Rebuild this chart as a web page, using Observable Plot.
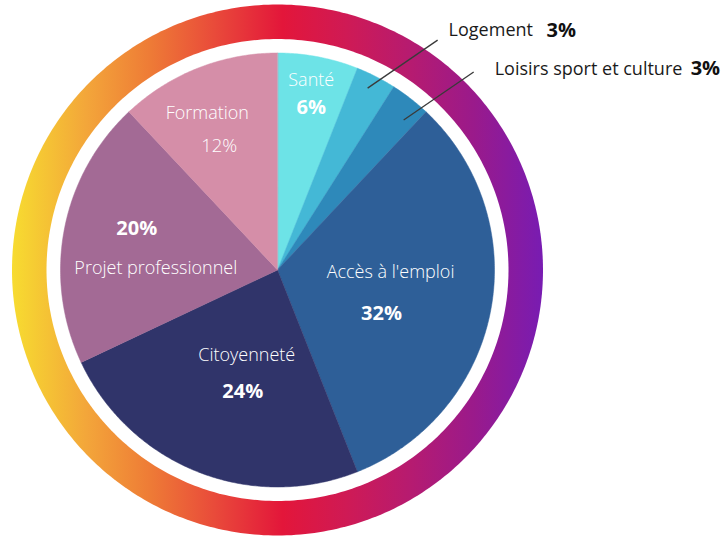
<!DOCTYPE html>
<html>
<head>
<meta charset="utf-8">
<script src="https://cdn.jsdelivr.net/npm/d3@7"></script>
<script src="https://cdn.jsdelivr.net/npm/@observablehq/plot@0.6"></script>
<style>
  html, body { margin: 0; padding: 0; background: #fff; }
  #chart svg { display: block; }
</style>
</head>
<body>
<div id="chart"></div>
<script>
// ---- data ----
const categories = ["Santé", "Logement", "Loisirs sport et culture", "Accès à l'emploi", "Citoyenneté", "Projet professionnel", "Formation"];
const values = [6, 3, 3, 32, 24, 20, 12];
const colors = ["#6de3e7", "#44b8d6", "#2e89ba", "#2e5f98", "#30346a", "#a36a95", "#d58ea8"];
const pctLabels = ["6%", "3%", "3%", "32%", "24%", "20%", "12%"];
const insideSlice = [true, false, false, true, true, true, true];
const boldPct = [true, true, true, true, true, true, false];

// ---- layout ----
const W = 724, H = 540;
const cx = 277, cy = 269.5;
const rPie = 217, rRingIn = 231, rRingOut = 265.5;
// inside labels: radius along the slice's mid angle, then offsets for name and pct
const inLayout = [
  {r: 180, ndx: 0, ndy: -13, pdx: 0, pdy: 14},
  null, null,
  {r: 110, ndx: 5, ndy: -18, pdx: -4, pdy: 23},
  {r: 108, ndx: 9, ndy: -15, pdx: 5, pdy: 21},
  {r: 130, ndx: 6, ndy: 23, pdx: -13, pdy: -17},
  {r: 150, ndx: -15, ndy: -17, pdx: -3, pdy: 16}
];
// outside labels: leader starts at fraction f of the slice's angle span, radius r
const outLayout = [
  null,
  {f: 0.44, r: 203, dx: 70, dy: -48, tx: 11, ty: -10, split: 98},
  {f: 0.71, r: 196, dx: 70, dy: -48, tx: 21, ty: -3, split: 196},
];
const gradStops = [
  [0, "#f7dc30"], [0.14, "#f3a63a"], [0.26, "#ee7b36"], [0.38, "#e94b3a"],
  [0.51, "#e3163a"], [0.63, "#cf1a55"], [0.75, "#b61b70"], [0.87, "#9a1a8b"], [1, "#781cb2"]
];

// ---- geometry from data ----
const pie = d3.pie().sort(null).value(d => d)(values);
const pt = (a, r) => ({x: cx + r * Math.sin(a), y: cy - r * Math.cos(a)});

const slicePts = [];
pie.forEach((p, i) => {
  slicePts.push({cat: categories[i], ...pt(0, 0)});
  const n = Math.max(4, Math.ceil((p.endAngle - p.startAngle) / 0.01));
  for (let k = 0; k <= n; k++) {
    const a = p.startAngle + (p.endAngle - p.startAngle) * k / n;
    slicePts.push({cat: categories[i], ...pt(a, rPie)});
  }
});

function circle(r) {
  const out = [];
  for (let k = 0; k < 360; k++) out.push(pt(k / 360 * 2 * Math.PI, r));
  return out;
}
const ringOuter = circle(rRingOut);
const ringInner = circle(rRingIn);

const inNames = [], inPctBold = [], inPctReg = [];
const outLines = [], outNames = [], outPcts = [];
pie.forEach((p, i) => {
  const mid = (p.startAngle + p.endAngle) / 2;
  if (insideSlice[i]) {
    const L = inLayout[i];
    const c = pt(mid, L.r);
    inNames.push({text: categories[i], x: c.x + L.ndx, y: c.y + L.ndy});
    (boldPct[i] ? inPctBold : inPctReg).push({text: pctLabels[i], x: c.x + L.pdx, y: c.y + L.pdy});
  } else {
    const L = outLayout[i];
    const s = pt(p.startAngle + L.f * (p.endAngle - p.startAngle), L.r);
    const e = {x: s.x + L.dx, y: s.y + L.dy};
    outLines.push({x1: s.x, y1: s.y, x2: e.x, y2: e.y});
    const tx = e.x + L.tx, ty = e.y + L.ty;
    outNames.push({text: categories[i], x: tx, y: ty});
    outPcts.push({text: pctLabels[i], x: tx + L.split, y: ty});
  }
});

const font = "'Open Sans', Lato, sans-serif";

const chart = Plot.plot({
  width: W,
  height: H,
  margin: 0,
  style: {background: "#fff", fontFamily: font},
  x: {domain: [0, W], range: [0, W], axis: null},
  y: {domain: [0, H], range: [0, H], axis: null},
  color: {domain: categories, range: colors},
  marks: [
    Plot.line(ringOuter, {x: "x", y: "y", curve: "linear-closed", fill: "url(#ringGrad)", stroke: "none"}),
    Plot.line(ringInner, {x: "x", y: "y", curve: "linear-closed", fill: "#ffffff", stroke: "none"}),
    Plot.line(slicePts, {x: "x", y: "y", z: "cat", fill: "cat", curve: "linear-closed", stroke: "cat", strokeWidth: 0.5}),
    Plot.text(inNames, {x: "x", y: "y", text: "text", fill: "#ffffff", fontSize: 18, fontWeight: 300, ariaLabel: "names"}),
    Plot.text(inPctReg, {x: "x", y: "y", text: "text", fill: "#ffffff", fontSize: 18.5, fontWeight: 300, ariaLabel: "names"}),
    Plot.text(inPctBold, {x: "x", y: "y", text: "text", fill: "#ffffff", fontSize: 20, fontWeight: 700}),
    Plot.link(outLines, {x1: "x1", y1: "y1", x2: "x2", y2: "y2", stroke: "#3a3a3a", strokeWidth: 1.3}),
    Plot.text(outNames, {x: "x", y: "y", text: "text", fill: "#1a1a1a", fontSize: 18, fontWeight: 400, textAnchor: "start", ariaLabel: "names"}),
    Plot.text(outPcts, {x: "x", y: "y", text: "text", fill: "#111111", fontSize: 20, fontWeight: 700, textAnchor: "start"})
  ]
});

d3.select(chart).selectAll('g[aria-label="names"] text').style("letter-spacing", "1.2px");

const defs = d3.select(chart).insert("defs", ":first-child");
const g = defs.append("linearGradient")
  .attr("id", "ringGrad")
  .attr("gradientUnits", "userSpaceOnUse")
  .attr("x1", cx - rRingOut).attr("x2", cx + rRingOut)
  .attr("y1", 0).attr("y2", 0);
gradStops.forEach(([o, c]) => g.append("stop").attr("offset", o).attr("stop-color", c));

document.getElementById("chart").appendChild(chart);
</script>
</body>
</html>
